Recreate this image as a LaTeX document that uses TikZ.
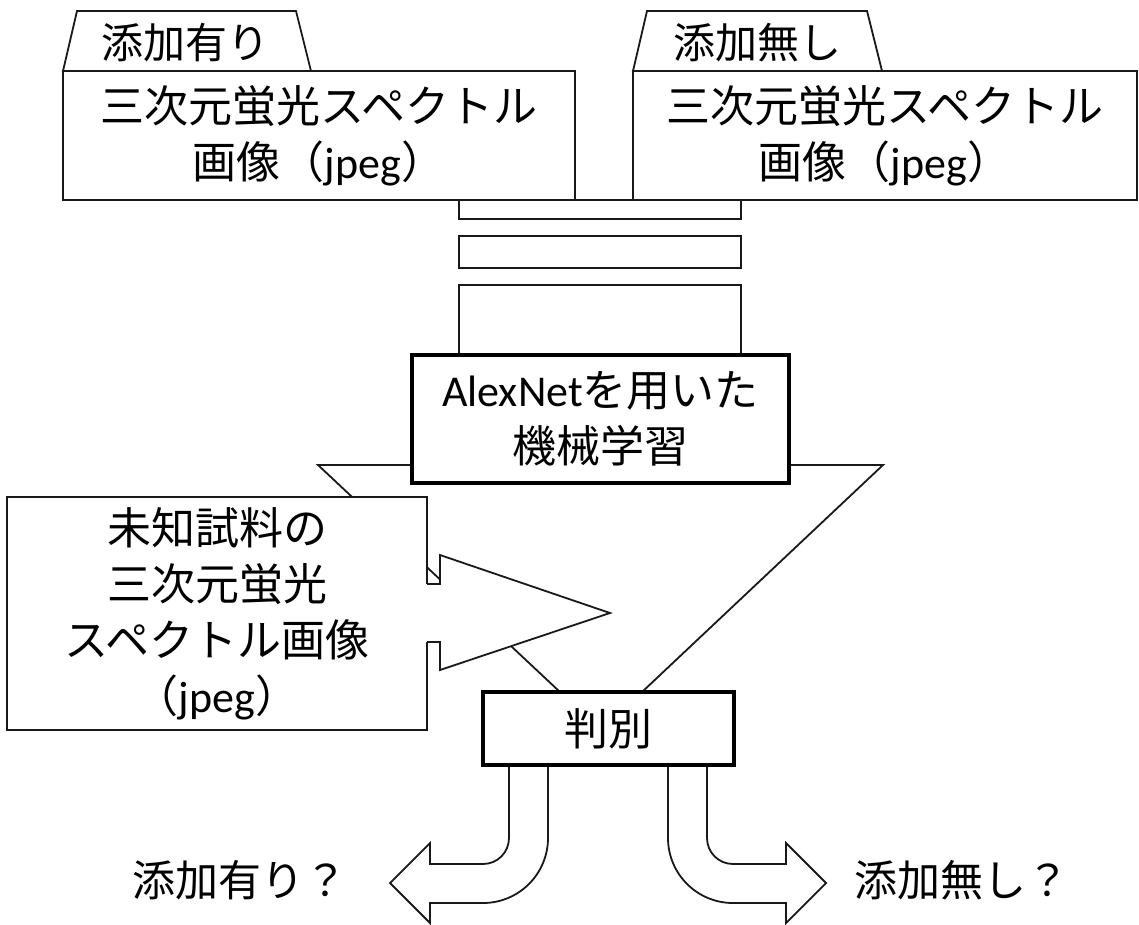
\documentclass[tikz,border=0pt]{standalone}
\usepackage{fontspec}
\setmainfont{Noto Sans CJK JP}
\newfontfamily\lat{Carlito}
\begin{document}
\begin{tikzpicture}[x=1pt,y=-1pt,
  ln/.style={line width=1.8pt, draw=black!90},
  thk/.style={line width=4.5pt, draw=black},
  shp/.style={ln, fill=white},
  txt/.style={inner sep=0pt, outer sep=0pt, align=center, font=\fontsize{44}{56}\selectfont},
  boxt/.style={txt, ln, fill=white},
  boxk/.style={txt, thk, fill=white},
  tabt/.style={inner sep=0pt, font=\fontsize{42}{50}\selectfont},
  outt/.style={inner sep=0pt, font=\fontsize{43}{50}\selectfont}
]
\useasboundingbox (0,0) rectangle (1139,924);

% funnel
\draw[shp] (318,465) -- (883,465) -- (642,692) -- (560,692) -- cycle;

% stacked layers
\draw[shp] (459,200) rectangle (741,219);
\draw[shp] (459,236) rectangle (741,268);
\draw[shp] (459,285) rectangle (741,355);

% tabs
\draw[shp] (63,71) -- (77,11) -- (296,11) -- (311,71) -- cycle;
\node[tabt] (tabL) at (185,43) {添加有り};
\draw[shp] (633,71) -- (647,11) -- (867,11) -- (882,71) -- cycle;
\node[tabt] (tabR) at (757,43) {添加無し};

% top image boxes
\node[boxt, minimum width=512pt, minimum height=129pt] (imgL) at (319,135.5)
  {三次元蛍光スペクトル\\画像（{\lat jpeg}）};
\node[boxt, minimum width=504pt, minimum height=129pt] (imgR) at (885,135.5)
  {三次元蛍光スペクトル\\画像（{\lat jpeg}）};

% AlexNet box
\node[boxk, minimum width=377pt, minimum height=128pt] (alex) at (600.5,419)
  {{\lat AlexNet}を用いた\\機械学習};

% unknown sample box
\node[boxt, minimum width=420pt, minimum height=233pt] (unk) at (217,613.5)
  {未知試料の\\三次元蛍光\\スペクトル画像\\（{\lat jpeg}）};

% block arrow from unknown sample
\fill[white] (425,584) -- (440,584) -- (440,555) -- (610,613) -- (440,670) -- (440,642) -- (425,642) -- cycle;
\draw[ln, line join=miter] (427,584) -- (440,584) -- (440,555) -- (610,613) -- (440,670) -- (440,642) -- (427,642);

% output U-turn arrows
\draw[shp] (509,760) -- (509,838) .. controls (509,852.4) and (497.4,864) .. (483,864)
  -- (430,864) -- (430,843) -- (390,883) -- (430,923) -- (430,903) -- (483,903)
  .. controls (518.9,903) and (548,873.9) .. (548,838) -- (548,760) -- cycle;
\draw[shp] (707,760) -- (707,838) .. controls (707,852.4) and (718.6,864) .. (733,864)
  -- (786,864) -- (786,843) -- (826,883) -- (786,923) -- (786,903) -- (733,903)
  .. controls (697.1,903) and (668,873.9) .. (668,838) -- (668,760) -- cycle;

% judgement box
\node[boxk, minimum width=251pt, minimum height=73pt] (judge) at (608.5,728.5) {判別};

% output labels
\node[outt] (outL) at (240,880) {添加有り？};
\node[outt] (outR) at (962,880) {添加無し？};
\end{tikzpicture}
\end{document}
